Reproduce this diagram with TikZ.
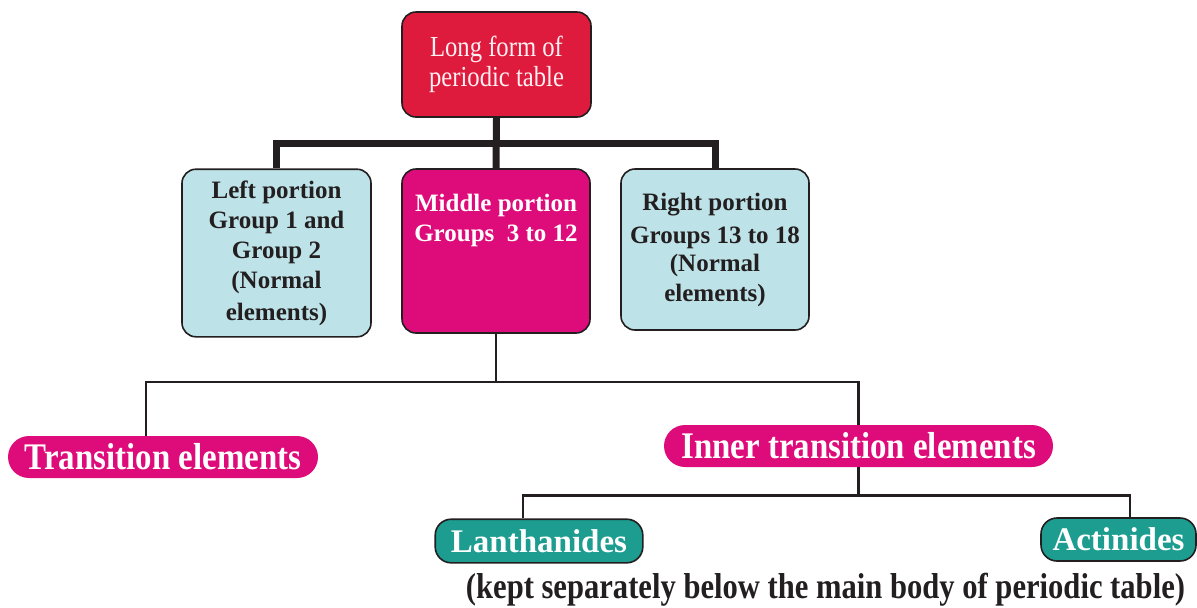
\documentclass[tikz,border=0pt]{standalone}
\usepackage{fontspec}
\setmainfont{Liberation Serif}
\newfontfamily\condfont{Liberation Serif}[FakeStretch=0.85]
\newfontfamily\pillfont{Liberation Serif}[FakeStretch=0.875]
\definecolor{edge}{HTML}{231F20}
\definecolor{crimson}{HTML}{DF1B3D}
\definecolor{magenta}{HTML}{DE0C7A}
\definecolor{pale}{HTML}{BDE2E7}
\definecolor{teal}{HTML}{1C9D90}
\definecolor{pinkwhite}{HTML}{FFF0F3}
\begin{document}
\begin{tikzpicture}[x=0.5pt,y=-0.5pt,
  box/.style={draw=edge, line width=0.8pt, rounded corners=7pt, align=center, inner sep=0pt,
    font=\fontsize{12.5}{15}\selectfont\bfseries},
  pill/.style={fill=magenta, draw=none, rounded corners=10.5pt, inner sep=0pt, minimum height=21pt,
    text=white, font=\pillfont\fontsize{18.8}{20}\selectfont\bfseries},
  tealbox/.style={fill=teal, draw=edge, line width=0.8pt, rounded corners=8pt, inner sep=0pt,
    text=white, font=\fontsize{16.5}{18}\selectfont\bfseries},
  thickline/.style={draw=edge, line width=3.5pt, line join=miter},
  thinline/.style={draw=edge, line width=1.1pt, line join=miter}]
\useasboundingbox (0,0) rectangle (1197,607);

% top box
\node[box, fill=crimson, minimum width=94.5pt, minimum height=52.5pt, text=pinkwhite,
  font=\condfont\fontsize{14.5}{15}\selectfont] (top) at (496.5,64.5) {Long form of\\periodic table};

% second row
\node[box, fill=pale, text=edge, minimum width=94.5pt, minimum height=83.8pt] (left) at (276.5,253)
  {Left portion\\Group 1 and\\Group 2\\(Normal\\[1pt]elements)};
\node[box, fill=magenta, minimum width=94pt, minimum height=82pt] (mid) at (496,251) {};
\node[font=\fontsize{12.5}{15}\selectfont\bfseries, text=white, align=center, inner sep=0pt, anchor=base]
  (midtext) at (496,241) {Middle portion\\Groups~ 3 to 12};
\node[box, fill=pale, text=edge, minimum width=94pt, minimum height=80.5pt] (right) at (715,249.5)
  {Right portion\\[1.5pt]Groups 13 to 18\\[-1pt](Normal\\elements)};

% third row
\node[pill, minimum width=155pt] (trans) at (163,457) {Transition elements};
\node[pill, minimum width=194.5pt] (inner) at (858.5,446) {Inner transition elements};

% fourth row
\node[tealbox, minimum width=103.8pt, minimum height=21.8pt] (lan) at (539,541) {Lanthanides};
\node[tealbox, minimum width=77.5pt, minimum height=21.5pt] (act) at (1118.5,539.5) {Actinides};

\node[font=\condfont\fontsize{18}{20}\selectfont\bfseries, text=edge, inner sep=0pt, anchor=base]
  (note) at (825.5,598) {(kept separately below the main body of periodic table)};

% connectors
\coordinate (jt) at (496,143);
\draw[thickline] (top.south) -- (mid.north);
\draw[thickline] (left.north) |- (jt) -| (right.north);

\coordinate (j2) at (496,382);
\draw[thinline] (mid.south) -- (j2);
\draw[thinline] ([xshift=-8.65pt]trans.north) |- (j2) -| (inner.north);

\coordinate (j3) at (858.5,495.5);
\draw[thinline] (inner.south) -- (j3);
\draw[thinline] ([xshift=-7.85pt]lan.north) |- (j3) -| ([xshift=5.75pt]act.north);
\end{tikzpicture}
\end{document}
